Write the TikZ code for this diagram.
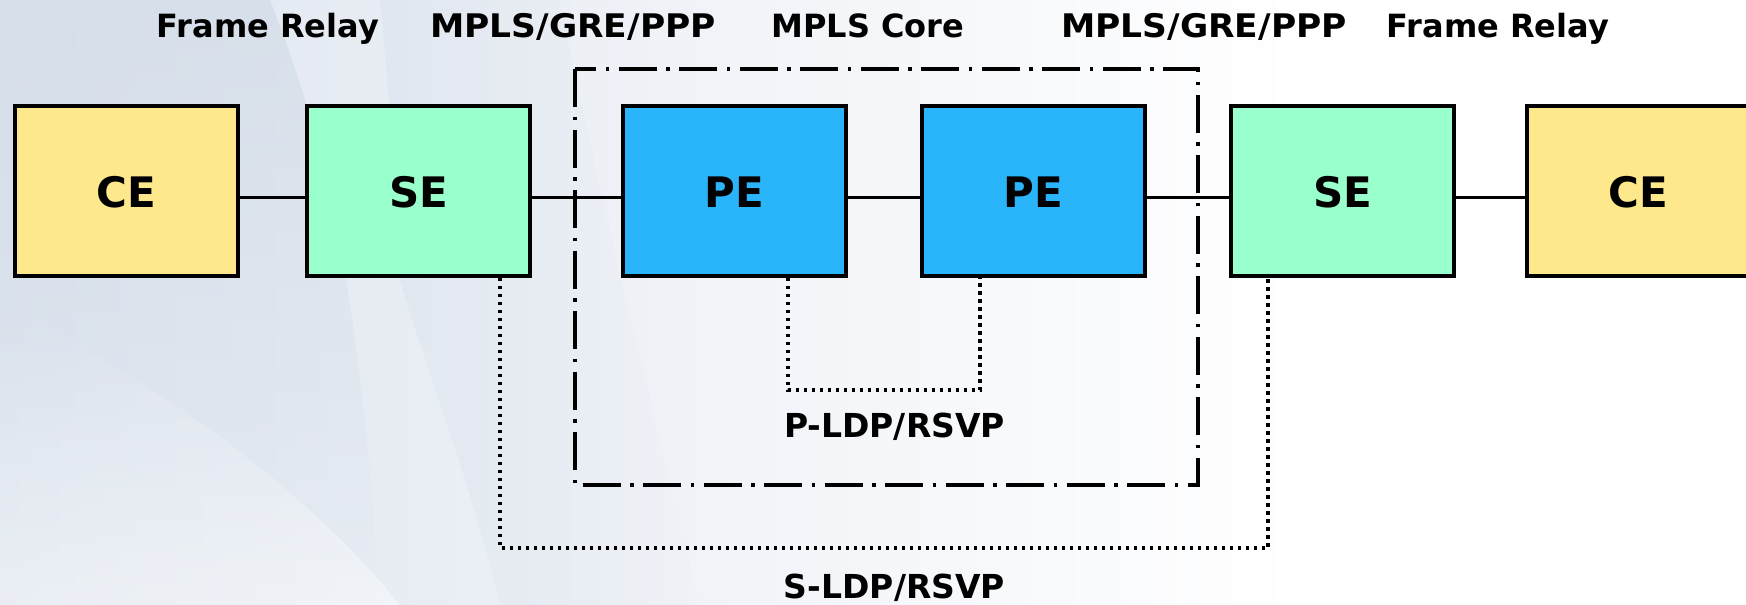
\documentclass[tikz,border=0pt]{standalone}
\usepackage{fontspec}
\setmainfont{DejaVu Sans}
\newfontfamily\wfont{DejaVu Sans}[FakeStretch=1.06]
\usetikzlibrary{calc,fadings}
\definecolor{cefill}{RGB}{254,232,140}
\definecolor{sefill}{RGB}{153,255,204}
\definecolor{pefill}{RGB}{42,181,250}
\definecolor{bgleft}{RGB}{222,229,239}
\definecolor{bgdark}{RGB}{210,219,231}
\tikzset{
  box/.style={draw=black, line width=4pt, rectangle, inner sep=0pt,
    minimum width=223pt, minimum height=170pt, text height=34.6pt, text depth=0pt,
    font=\fontsize{42}{46}\selectfont\bfseries},
  cebox/.style={box, fill=cefill},
  sebox/.style={box, fill=sefill},
  pebox/.style={box, fill=pefill},
  link/.style={draw=black, line width=3pt},
  dotline/.style={draw=black, line width=3.3pt, dash pattern=on 3.3pt off 4.7pt},
  dashdotline/.style={draw=black, line width=3.8pt, dash pattern=on 38pt off 9.5pt on 3.5pt off 9.5pt},
  title/.style={anchor=base, inner sep=0pt, font=\fontsize{32}{36}\selectfont\bfseries},
  widetitle/.style={anchor=base, inner sep=0pt, font=\wfont\fontsize{32.5}{36}\selectfont\bfseries},
  ldplabel/.style={anchor=base, inner sep=0pt, font=\fontsize{33}{36}\selectfont\bfseries}
}
\begin{document}
\begin{tikzpicture}[x=1pt, y=-1pt]
\clip (0,0) rectangle (1746,605);
\useasboundingbox (0,0) rectangle (1746,605);
% background
\fill[white] (0,0) rectangle (1746,605);
\shade[left color=bgleft, right color=white] (0,0) rectangle (1300,605);
\fill[bgdark, path fading=south, opacity=0.7] (0,0) -- (270,0) .. controls (330,150) and (360,300) .. (380,605) -- (0,605) -- cycle;
\fill[white, opacity=0.4, path fading=north] (0,300) .. controls (150,380) and (300,480) .. (400,605) -- (0,605) -- cycle;
\fill[bgdark, opacity=0.3, path fading=east] (400,280) .. controls (430,380) and (470,480) .. (500,605) -- (700,605) .. controls (650,400) and (600,200) .. (560,0) -- (380,0) .. controls (390,100) and (395,200) .. (400,280) -- cycle;

% titles
\node[title] (t1) at (268,37) {Frame Relay};
\node[widetitle] (t2) at (573,37) {MPLS/GRE/PPP};
\node[title] (t3) at (868,37) {MPLS Core};
\node[widetitle] (t4) at (1204,37) {MPLS/GRE/PPP};
\node[title] (t5) at (1498,37) {Frame Relay};

% core box
\coordinate (core1) at (575,69);
\coordinate (core2) at (1198,485);
\draw[dashdotline] (core1) rectangle (core2);

% boxes
\node[cebox] (ce1) at (126,190.5) {CE};
\node[sebox] (se1) at (418.5,190.5) {SE};
\node[pebox] (pe1) at (734.5,190.5) {PE};
\node[pebox] (pe2) at (1033.5,190.5) {PE};
\node[sebox] (se2) at (1342.5,190.5) {SE};
\node[cebox] (ce2) at (1638,190.5) {CE};

% links
\draw[link] ([yshift=-6.5pt]ce1.east) -- ([yshift=-6.5pt]se1.west);
\draw[link] ([yshift=-6.5pt]se1.east) -- ([yshift=-6.5pt]pe1.west);
\draw[link] ([yshift=-6.5pt]pe1.east) -- ([yshift=-6.5pt]pe2.west);
\draw[link] ([yshift=-6.5pt]pe2.east) -- ([yshift=-6.5pt]se2.west);
\draw[link] ([yshift=-6.5pt]se2.east) -- ([yshift=-6.5pt]ce2.west);

% P-LDP dotted
\coordinate (pbot) at (0,390);
\draw[dotline] ([xshift=53.5pt]pe1.south) -- ([xshift=53.5pt]pe1.south |- pbot) -- ([xshift=-53.5pt]pe2.south |- pbot) -- ([xshift=-53.5pt]pe2.south);
% S-LDP dotted
\coordinate (sbot) at (0,548);
\draw[dotline] ([xshift=81.5pt]se1.south) -- ([xshift=81.5pt]se1.south |- sbot) -- ([xshift=-74.5pt]se2.south |- sbot) -- ([xshift=-74.5pt]se2.south);

% labels
\node[ldplabel] (pldp) at (894.5,437) {P-LDP/RSVP};
\node[ldplabel] (sldp) at (894.5,598) {S-LDP/RSVP};
\end{tikzpicture}
\end{document}
